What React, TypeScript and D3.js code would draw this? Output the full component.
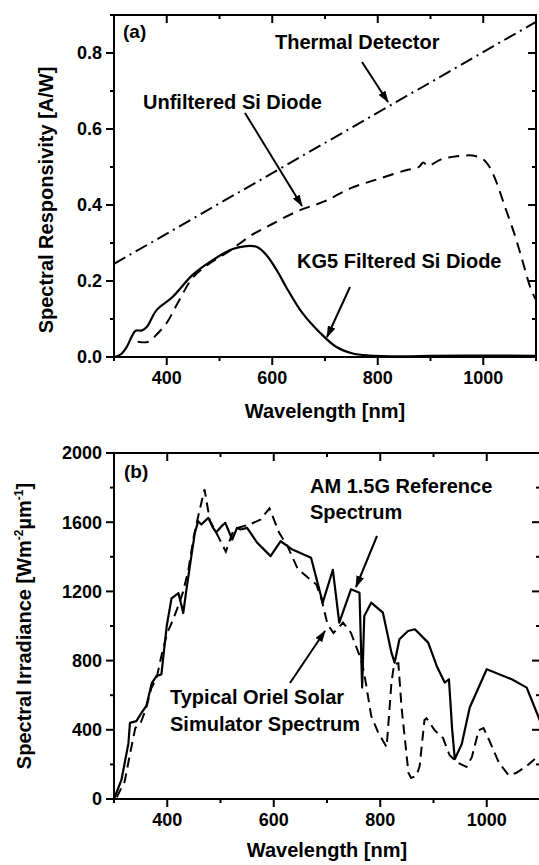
import React from 'react';
import * as d3 from 'd3';

// svg size
const svgWidth = 539;
const svgHeight = 865;
const font = '"Liberation Sans", Arial, sans-serif';

// panel (a): spectral responsivity [A/W] vs wavelength [nm]
const thermalDetector = [[300, 0.245], [1100, 0.882]];
const unfilteredSi = [
  [345, 0.04], [365, 0.04], [380, 0.058], [400, 0.09], [420, 0.14], [450, 0.21],
  [480, 0.245], [520, 0.28], [560, 0.32], [600, 0.35], [650, 0.385], [700, 0.41],
  [750, 0.445], [800, 0.468], [850, 0.49], [878, 0.5], [886, 0.512], [895, 0.503],
  [920, 0.52], [950, 0.528], [980, 0.53], [1000, 0.52], [1012, 0.5], [1025, 0.46],
  [1040, 0.4], [1060, 0.32], [1075, 0.25], [1090, 0.18], [1100, 0.15],
];
const kg5Si = [
  [300, 0], [312, 0.006], [324, 0.026], [334, 0.055], [341, 0.069], [353, 0.07],
  [362, 0.079], [381, 0.124], [411, 0.158], [449, 0.216], [487, 0.255], [525, 0.284],
  [551, 0.292], [570, 0.29], [588, 0.27], [610, 0.225], [626, 0.185], [657, 0.116],
  [689, 0.066], [721, 0.027], [751, 0.01], [783, 0.004], [850, 0.002], [900, 0.003],
  [1000, 0.004], [1100, 0.003],
];

// panel (b): spectral irradiance [W m-2 um-1] vs wavelength [nm]
const am15g = [
  [300, 0], [314, 110], [327, 320], [330, 440], [342, 450], [352, 500], [361, 540],
  [371, 670], [380, 712], [389, 720], [399, 1000], [408, 1160], [421, 1190], [427, 1115],
  [430, 1075], [436, 1210], [446, 1420], [452, 1540], [458, 1606], [464, 1587],
  [477, 1625], [486, 1567], [492, 1542], [502, 1577], [509, 1596], [522, 1500],
  [531, 1567], [538, 1558], [550, 1567], [569, 1481], [594, 1404], [613, 1490],
  [635, 1442], [670, 1394], [692, 1135], [711, 1325], [723, 1019], [745, 1212],
  [761, 1192], [766, 644], [770, 1058], [783, 1135], [805, 1077], [821, 846],
  [827, 788], [836, 923], [852, 971], [865, 981], [890, 904], [906, 769], [921, 673],
  [929, 692], [935, 404], [940, 231], [953, 317], [968, 529], [1000, 750], [1047, 692],
  [1075, 644], [1100, 452],
];
const orielSim = [
  [305, 10], [320, 100], [330, 260], [340, 410], [350, 440], [360, 520], [370, 640],
  [380, 700], [390, 840], [400, 960], [410, 1030], [420, 1110], [430, 1200], [440, 1330],
  [450, 1520], [460, 1660], [470, 1790], [480, 1610], [492, 1540], [510, 1430],
  [525, 1560], [557, 1590], [575, 1615], [592, 1680], [610, 1540], [626, 1460],
  [645, 1330], [664, 1280], [680, 1240], [690, 1150], [701, 1010], [712, 960],
  [722, 990], [730, 1020], [745, 960], [761, 830], [767, 770], [773, 670], [783, 480],
  [796, 385], [812, 300], [821, 670], [826, 780], [834, 785], [840, 530], [853, 150],
  [858, 121], [868, 135], [874, 190], [883, 456], [887, 467], [902, 398], [918, 352],
  [930, 254], [945, 210], [962, 185], [972, 242], [985, 398], [994, 410], [1006, 330],
  [1023, 208], [1041, 138], [1055, 150], [1075, 190], [1097, 250], [1100, 255],
];

// ticks
const xTicks = [400, 600, 800, 1000];
const xMinor = [300, 500, 700, 900, 1100];
const yTicksA = [0, 0.2, 0.4, 0.6, 0.8];
const yMinorA = [0.1, 0.3, 0.5, 0.7, 0.9];
const yTicksB = [0, 400, 800, 1200, 1600, 2000];
const yMinorB = [200, 600, 1000, 1400, 1800];

// scales
const xA = d3.scaleLinear().domain([300, 1100]).range([114, 536]);
const yA = d3.scaleLinear().domain([0, 0.9]).range([357, 15]);
const xB = d3.scaleLinear().domain([300, 1100]).range([114, 540]);
const yB = d3.scaleLinear().domain([0, 2000]).range([799, 453]);

const makeLine = (x, y, curve) =>
  d3.line().x(d => x(d[0])).y(d => y(d[1])).curve(curve);

function Frame({ x, y, yTicks, yMinor, fmt }) {
  const [x0, x1] = x.range();
  const [y0, y1] = y.range();
  const major = 8;
  const minor = 4;
  return (
    <g stroke="#000" strokeWidth={2}>
      {xTicks.map(t => (
        <g key={'x' + t}>
          <line x1={x(t)} x2={x(t)} y1={y0} y2={y0 + major} />
          <line x1={x(t)} x2={x(t)} y1={y1} y2={y1 + major} />
          <text x={x(t)} y={y0 + 27} textAnchor="middle" stroke="none" fill="#000"
            fontSize={18} fontWeight="bold">{t}</text>
        </g>
      ))}
      {xMinor.map(t => (
        <g key={'xm' + t}>
          <line x1={x(t)} x2={x(t)} y1={y0} y2={y0 + minor} />
          <line x1={x(t)} x2={x(t)} y1={y1} y2={y1 + minor} />
        </g>
      ))}
      {yTicks.map(t => (
        <g key={'y' + t}>
          <line x1={x0 - major} x2={x0} y1={y(t)} y2={y(t)} />
          <line x1={x1 - major} x2={x1} y1={y(t)} y2={y(t)} />
          <text x={x0 - 12} y={y(t)} dy="0.36em" textAnchor="end" stroke="none" fill="#000"
            fontSize={18} fontWeight="bold">{fmt(t)}</text>
        </g>
      ))}
      {yMinor.map(t => (
        <g key={'ym' + t}>
          <line x1={x0 - minor} x2={x0} y1={y(t)} y2={y(t)} />
          <line x1={x1 - minor} x2={x1} y1={y(t)} y2={y(t)} />
        </g>
      ))}
      <rect x={x0} y={y1} width={x1 - x0} height={y0 - y1} fill="none" />
    </g>
  );
}

function Arrow({ x1, y1, x2, y2 }) {
  return <line x1={x1} y1={y1} x2={x2} y2={y2} stroke="#000" strokeWidth={2} markerEnd="url(#head)" />;
}

export default function App() {
  const smooth = d3.curveCatmullRom.alpha(0.5);
  const lab = { fontSize: 20, fontWeight: 'bold' as const };
  return (
    <div style={{ position: 'absolute', left: 0, top: 0 }}>
      <svg width={svgWidth} height={svgHeight} fontFamily={font} style={{ display: 'block' }}>
        <defs>
          <marker id="head" markerUnits="userSpaceOnUse" markerWidth={12} markerHeight={8}
            refX={11} refY={4} orient="auto">
            <path d="M0,0 L12,4 L0,8 Z" fill="#000" />
          </marker>
        </defs>
        <rect width={svgWidth} height={svgHeight} fill="#fff" />

        {/* panel (a) */}
        <path d={makeLine(xA, yA, d3.curveLinear)(thermalDetector)} fill="none" stroke="#000"
          strokeWidth={2} strokeDasharray="13,5,2,5" />
        <path d={makeLine(xA, yA, smooth)(unfilteredSi)} fill="none" stroke="#000"
          strokeWidth={2} strokeDasharray="11,7" />
        <path d={makeLine(xA, yA, smooth)(kg5Si)} fill="none" stroke="#000" strokeWidth={2.2} />
        <Frame x={xA} y={yA} yTicks={yTicksA} yMinor={yMinorA} fmt={d3.format('.1f')} />
        <text x={123} y={38} {...lab} fontSize={19}>(a)</text>
        <text x={275} y={49} {...lab}>Thermal Detector</text>
        <Arrow x1={362} y1={62} x2={388} y2={102} />
        <text x={143} y={109} {...lab}>Unfiltered Si Diode</text>
        <Arrow x1={245} y1={113} x2={302} y2={206} />
        <text x={297} y={268} {...lab}>KG5 Filtered Si Diode</text>
        <Arrow x1={350} y1={287} x2={327} y2={337} />
        <text x={325} y={418} textAnchor="middle" {...lab}>Wavelength [nm]</text>
        <text transform="translate(53,200) rotate(-90)" textAnchor="middle" {...lab}>
          Spectral Responsivity [A/W]
        </text>

        {/* panel (b) */}
        <path d={makeLine(xB, yB, d3.curveLinear)(orielSim)} fill="none" stroke="#000"
          strokeWidth={2} strokeDasharray="10,6" />
        <path d={makeLine(xB, yB, d3.curveLinear)(am15g)} fill="none" stroke="#000"
          strokeWidth={2.2} strokeLinejoin="round" />
        <Frame x={xB} y={yB} yTicks={yTicksB} yMinor={yMinorB} fmt={d3.format('d')} />
        <text x={124} y={478} {...lab} fontSize={19}>(b)</text>
        <text x={310} y={493} {...lab}>AM 1.5G Reference</text>
        <text x={310} y={519} {...lab}>Spectrum</text>
        <Arrow x1={377} y1={536} x2={356} y2={587} />
        <text x={170} y={704} {...lab}>Typical Oriel Solar</text>
        <text x={170} y={731} {...lab}>Simulator Spectrum</text>
        <Arrow x1={290} y1={683} x2={325} y2={631} />
        <text x={327} y={857} textAnchor="middle" {...lab}>Wavelength [nm]</text>
        <text transform="translate(31,626) rotate(-90)" textAnchor="middle" {...lab}>
          Spectral Irradiance [Wm<tspan dy={-8} fontSize={12}>-2</tspan>
          <tspan dy={8}>µm</tspan><tspan dy={-8} fontSize={12}>-1</tspan><tspan dy={8}>]</tspan>
        </text>
      </svg>
    </div>
  );
}
